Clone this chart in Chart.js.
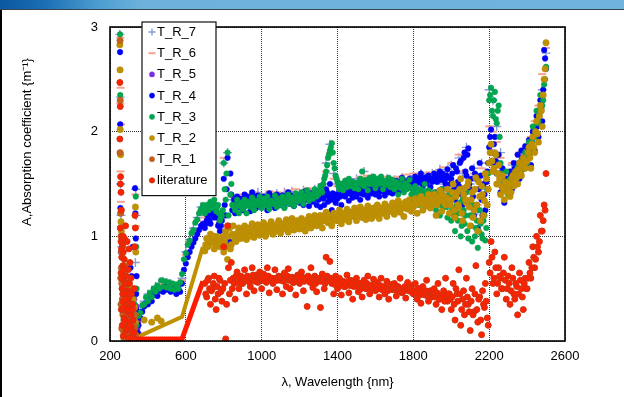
<!DOCTYPE html>
<html>
<head>
<meta charset="utf-8">
<title>Absorption coefficient vs wavelength</title>
<script src="https://cdn.jsdelivr.net/npm/chart.js@4.4.1/dist/chart.umd.min.js"></script>
<style>
  html, body { margin: 0; padding: 0; background: #fff; width: 624px; height: 397px; overflow: hidden; }
  #band { position: absolute; left: 0; top: 0; width: 624px; height: 9px;
          background: linear-gradient(100deg, #0a58a0 0px, #1a6fb4 45px, #4b9bd0 95px, #6cb2dc 140px, #6fb4dd 624px);
          border-bottom: 1px solid #3a4550; z-index: 2; }
  #edge { position: absolute; left: 0; top: 10px; width: 2px; height: 387px; background: #000; z-index: 2; }
  #plot { position: absolute; left: 0; top: 0; }
</style>
</head>
<body>
<div id="band"></div>
<div id="edge"></div>
<canvas id="plot" width="624" height="397"></canvas>
<script>
// ---- sampling grids (nm) ----
function grid(start, stop, step) { const g = []; for (let w = start; w <= stop; w += step) g.push(w); return g; }
const nirWavelengths = grid(700, 2500, 10);       // NIR sweep, first pass
const nirWavelengthsB = grid(705, 2495, 10);      // NIR sweep, second pass
const nirWavelengthsCoarse = grid(700, 2500, 20); // coarse NIR sweep
const visWavelengths = grid(340, 690, 10);        // visible sweep
const visWavelengthsCoarse = grid(340, 680, 20);

// ---- axis ticks ----
const xTicks = [200, 600, 1000, 1400, 1800, 2200, 2600];
const yTicks = [0, 1, 2, 3];

// ---- legend labels ----
const seriesLabels = ['T_R_7', 'T_R_6', 'T_R_5', 'T_R_4', 'T_R_3', 'T_R_2', 'T_R_1', 'literature'];

// ---- UV scatter (wavelength nm, A) ----
const uvT7 = [[252,2.93],[254,2.33],[256,1.5],[258,1.2],[262,0.9],[268,0.7],[275,0.5],[282,0.3],[290,0.15],[298,0.05],[305,0.25],[312,0.1],[320,0.4],[330,0.2],[336,1.45],[338,1.2],[334,0.75]];
const uvT6 = [[254,2.9],[256,2.42],[254,2.27],[258,2.07],[256,1.62],[258,1.33],[262,1.0],[270,0.6],[278,0.35],[288,0.2],[300,0.12],[310,0.3],[324,0.18],[334,1.4],[336,1.1],[332,0.6]];
const uvT5 = [[300,0.1],[310,0.22],[318,0.15],[325,0.3],[330,0.08],[335,0.2],[340,0.33],[345,0.12],[350,0.25],[355,0.06],[338,0.05],[328,0.4],[344,0.28],[348,0.18]];
const uvT4 = [[253,2.76],[254,2.07],[255,1.27],[258,0.85],[262,0.6],[266,0.35],[272,0.2],[278,0.12],[286,0.05],[294,0.3],[302,0.5],[308,0.7],[314,0.62],[320,0.9],[326,0.45],[332,1.46],[334,1.22],[336,0.98],[338,0.3],[340,0.62],[342,0.15],[346,0.08],[338,0.45]];
const uvT3 = [[253,2.93],[254,2.35],[256,1.22],[262,0.5],[270,0.3],[280,0.15],[292,0.08],[306,0.2],[318,0.12],[330,0.35],[336,1.38],[338,0.9],[340,0.5]];
const uvT2 = [[252,2.83],[253,2.59],[254,2.02],[256,1.78],[258,1.14],[260,1.05],[264,0.8],[270,0.6],[276,0.72],[282,0.45],[288,0.5],[294,0.32],[300,0.6],[306,0.4],[312,0.28],[318,0.5],[324,0.2],[330,0.32],[334,1.28],[336,0.85],[326,0.1],[262,0.95],[268,0.35],[274,0.2],[280,0.62],[286,0.15],[298,0.2],[304,0.1],[316,0.08],[322,0.4],[334,0.18],[380,0.2],[420,0.18],[450,0.22],[470,0.19]];
const uvT1 = [[253,2.87],[254,2.3],[253,1.8],[256,1.22],[258,1.0],[260,0.85],[262,0.55],[265,0.4],[268,0.25],[270,0.1],[272,0.03],[276,0.5],[280,0.3],[284,0.15],[288,0.05],[292,0.4],[296,0.2],[300,0.08],[304,0.3],[308,0.12],[312,0.02],[316,0.22],[320,0.06],[325,0.15],[330,0.04],[260,0.7],[266,0.9],[274,0.62],[262,0.12],[278,0.02],[294,0.1],[258,0.35],[257,0.6],[263,0.3],[267,0.7],[271,0.45],[279,0.15],[283,0.38],[287,0.25],[291,0.1],[299,0.3],[303,0.05],[310,0.35],[318,0.1],[323,0.3],[328,0.12],[333,0.25],[336,0.06]];
const uvLit = [[252,2.47],[254,2.24],[252,1.93],[256,1.57],[255,1.5],[258,1.42],[260,1.25],[254,1.08],[262,1.0],[258,0.95],[266,0.92],[270,0.85],[262,0.8],[275,0.78],[268,0.72],[280,0.7],[258,0.65],[285,0.62],[272,0.58],[290,0.55],[264,0.5],[295,0.48],[278,0.45],[300,0.42],[268,0.38],[305,0.36],[284,0.33],[260,0.3],[292,0.28],[310,0.25],[275,0.22],[298,0.18],[265,0.15],[315,0.12],[285,0.1],[320,0.08],[270,0.05],[300,0.03],[325,0.02],[290,0.95],[300,0.88],[305,0.75],[296,0.68],[310,0.6],[282,1.1],[276,0.98],[332,1.2],[334,1.08],[328,0.5],[320,0.35],[263,0.6],[267,0.45],[271,0.32],[277,0.2],[281,0.55],[287,0.4],[293,0.12],[297,0.3],[303,0.55],[307,0.15],[313,0.45],[317,0.3],[322,0.2],[327,0.08],[331,0.9],[261,0.88],[269,1.0],[274,0.68]];

// ---- visible band (on visWavelengths / visWavelengthsCoarse) ----
const visT7 = [0.2,0.3,0.38,0.45,0.47,0.52,0.55,0.57,0.56,0.55,0.53,0.52,0.6,0.85,0.97,1.08,1.18,1.28];
const visT6 = [0.16,0.27,0.36,0.42,0.46,0.5,0.53,0.55,0.54,0.53,0.5,0.5,0.58,0.82,0.95,1.05,1.15,1.25];
const visT4 = [0.08,0.15,0.22,0.28,0.33,0.36,0.35,0.4,0.38,0.44,0.46,0.43,0.48,0.5,0.47,0.52,0.49,0.5,0.47,0.5,0.48,0.45,0.5,0.47,0.55,0.68,0.74,0.8,0.85,0.9,0.94,0.98,1.02,1.06,1.1,1.12];
const visT3 = [0.15,0.24,0.27,0.34,0.35,0.42,0.38,0.46,0.42,0.5,0.47,0.53,0.5,0.58,0.52,0.57,0.51,0.56,0.5,0.55,0.49,0.54,0.5,0.56,0.64,0.78,0.84,0.92,0.96,1.03,1.06,1.13,1.16,1.22,1.26,1.3];
// visible baselines drawn as continuous traces
const visTraceWavelengths = [335, 580, 690];
const visTraceT2 = [0.03, 0.23, 0.9];
const visTraceLit = [0.02, 0.02, 0.57];

// ---- NIR (on nirWavelengthsCoarse) ----
const nirT7 = [
  1.2,1.28,1.3,1.25,1.2,1.7,1.8,1.35,1.3,1.36,
  1.38,1.3,1.4,1.35,1.42,1.32,1.38,1.4,1.34,1.41,
  1.36,1.42,1.38,1.43,1.35,1.41,1.44,1.37,1.42,1.45,
  1.44,1.5,1.7,1.88,1.6,1.5,1.46,1.52,1.48,1.5,
  1.55,1.5,1.62,1.52,1.56,1.5,1.54,1.49,1.55,1.52,
  1.54,1.5,1.56,1.52,1.55,1.58,1.52,1.6,1.55,1.58,
  1.6,1.55,1.64,1.5,1.58,1.68,1.45,1.75,1.6,1.85,
  1.5,1.65,1.25,1.7,1.45,2.4,2.3,2.05,1.8,1.6,
  1.55,1.68,1.62,1.78,1.72,1.85,1.9,2.05,2.2,2.4,
  2.75];
const nirT6 = [
  1.18,1.3,1.28,1.22,1.15,1.75,1.6,1.38,1.32,1.3,
  1.4,1.33,1.38,1.42,1.36,1.4,1.33,1.43,1.37,1.42,
  1.4,1.35,1.44,1.39,1.45,1.38,1.42,1.46,1.4,1.44,
  1.42,1.47,1.62,1.8,1.55,1.48,1.51,1.47,1.53,1.49,
  1.52,1.57,1.5,1.58,1.53,1.55,1.51,1.57,1.5,1.56,
  1.52,1.57,1.54,1.59,1.53,1.6,1.56,1.58,1.54,1.61,
  1.57,1.62,1.52,1.66,1.55,1.7,1.5,1.78,1.62,1.82,
  1.55,1.6,1.3,1.65,1.5,2.05,2.0,1.9,1.75,1.62,
  1.58,1.7,1.65,1.8,1.75,1.88,1.95,2.1,2.25,2.55,
  2.8];

// ---- NIR first pass (on nirWavelengths) ----
const nirT4 = [
  1.08,1.15,1.2,1.12,1.25,1.18,1.28,1.1,1.05,1.15,
  1.55,1.2,1.75,0.95,1.4,1.3,1.22,1.38,1.28,1.35,
  1.25,1.4,1.3,1.36,1.24,1.42,1.32,1.27,1.39,1.3,
  1.28,1.38,1.33,1.25,1.41,1.3,1.36,1.27,1.4,1.32,
  1.3,1.39,1.28,1.35,1.42,1.31,1.37,1.29,1.4,1.34,
  1.32,1.4,1.3,1.43,1.35,1.29,1.41,1.33,1.38,1.3,
  1.35,1.28,1.42,1.3,1.45,1.33,1.5,1.25,1.4,1.32,
  1.36,1.44,1.3,1.42,1.38,1.47,1.34,1.43,1.37,1.46,
  1.38,1.46,1.35,1.44,1.4,1.49,1.37,1.45,1.41,1.48,
  1.4,1.47,1.38,1.5,1.43,1.39,1.48,1.42,1.52,1.41,
  1.45,1.53,1.42,1.5,1.56,1.44,1.52,1.47,1.55,1.46,
  1.5,1.57,1.45,1.54,1.6,1.48,1.56,1.51,1.58,1.47,
  1.52,1.6,1.42,1.56,1.62,1.45,1.58,1.5,1.64,1.4,
  1.55,1.68,1.35,1.62,1.48,1.72,1.3,1.8,1.58,1.84,
  1.45,1.65,1.2,1.55,1.08,1.7,1.35,1.5,1.25,1.62,
  1.85,2.02,1.7,1.95,1.6,1.78,1.42,1.65,1.32,1.55,
  1.5,1.62,1.45,1.7,1.58,1.78,1.55,1.82,1.68,1.86,
  1.75,1.92,1.68,2.0,1.82,2.15,1.95,2.3,2.1,2.78,
  2.6];
const nirT3 = [
  1.22,1.3,1.25,1.33,1.28,1.35,1.24,1.3,1.15,1.2,
  1.7,1.35,1.8,1.1,1.5,1.3,1.25,1.35,1.22,1.32,
  1.26,1.35,1.22,1.33,1.28,1.37,1.25,1.34,1.3,1.38,
  1.27,1.36,1.3,1.38,1.26,1.34,1.31,1.39,1.28,1.36,
  1.3,1.38,1.27,1.36,1.4,1.31,1.37,1.29,1.41,1.33,
  1.35,1.42,1.31,1.39,1.44,1.34,1.4,1.36,1.45,1.38,
  1.4,1.48,1.42,1.55,1.62,1.75,1.82,1.89,1.7,1.58,
  1.52,1.45,1.5,1.44,1.53,1.47,1.55,1.48,1.52,1.46,
  1.5,1.45,1.55,1.62,1.48,1.54,1.44,1.56,1.5,1.57,
  1.46,1.55,1.5,1.57,1.45,1.53,1.49,1.56,1.47,1.54,
  1.45,1.52,1.4,1.5,1.55,1.42,1.51,1.46,1.54,1.4,
  1.35,1.48,1.42,1.3,1.45,1.38,1.5,1.32,1.44,1.36,
  1.3,1.42,1.25,1.38,1.2,1.45,1.28,1.35,1.18,1.4,
  1.15,1.38,1.05,1.3,1.22,1.0,1.35,1.12,1.42,0.98,
  1.2,0.95,1.3,1.08,0.89,1.25,1.02,1.15,0.96,1.45,
  2.3,2.42,2.15,2.38,2.08,2.25,1.7,1.55,1.45,1.62,
  1.4,1.55,1.48,1.6,1.5,1.66,1.58,1.72,1.64,1.8,
  1.7,1.9,1.8,2.05,1.95,2.2,2.1,2.35,2.25,2.45,
  2.62];
const nirT2 = [
  0.86,0.98,0.92,1.02,0.95,0.88,1.0,0.93,0.9,0.97,
  0.85,1.05,0.78,1.08,0.92,1.1,0.96,1.02,1.08,0.98,
  1.0,1.1,0.97,1.08,1.03,1.12,0.99,1.06,1.11,1.01,
  1.04,1.13,1.0,1.09,1.05,1.14,1.02,1.1,1.07,1.15,
  1.03,1.12,1.08,1.16,1.04,1.11,1.17,1.06,1.13,1.09,
  1.07,1.17,1.1,1.05,1.15,1.19,1.08,1.14,1.2,1.1,
  1.12,1.2,1.08,1.17,1.23,1.13,1.19,1.1,1.22,1.15,
  1.18,1.25,1.12,1.21,1.16,1.26,1.14,1.23,1.19,1.27,
  1.15,1.22,1.28,1.18,1.25,1.16,1.29,1.21,1.17,1.27,
  1.2,1.3,1.17,1.26,1.22,1.31,1.19,1.28,1.24,1.32,
  1.21,1.29,1.34,1.23,1.3,1.19,1.33,1.26,1.35,1.24,
  1.28,1.36,1.22,1.32,1.38,1.25,1.34,1.29,1.4,1.27,
  1.31,1.4,1.2,1.36,1.44,1.24,1.38,1.3,1.45,1.22,
  1.35,1.5,1.18,1.42,1.28,1.55,1.15,1.46,1.32,1.52,
  1.1,1.42,1.25,1.56,1.05,1.38,1.48,1.2,1.6,1.3,
  1.7,1.88,1.62,1.8,1.5,1.68,1.4,1.58,1.35,1.5,
  1.45,1.38,1.55,1.48,1.62,1.5,1.7,1.58,1.75,1.65,
  1.72,1.85,1.65,1.95,1.8,2.1,1.9,2.25,2.05,2.5,
  2.85];
const nirLit = [
  0.55,0.42,0.6,0.35,0.5,0.62,0.3,0.45,0.58,0.38,
  0.9,0.02,1.1,0.45,0.75,0.6,0.4,0.66,0.5,0.62,
  0.55,0.68,0.45,0.6,0.52,0.7,0.48,0.63,0.56,0.66,
  0.5,0.64,0.57,0.7,0.46,0.6,0.55,0.68,0.49,0.62,
  0.58,0.45,0.65,0.52,0.69,0.5,0.61,0.56,0.44,0.63,
  0.55,0.66,0.48,0.6,0.33,0.58,0.7,0.51,0.62,0.47,
  0.57,0.32,0.64,0.5,0.8,0.6,0.76,0.55,0.45,0.62,
  0.5,0.6,0.44,0.57,0.52,0.63,0.46,0.58,0.4,0.55,
  0.6,0.47,0.55,0.42,0.58,0.5,0.62,0.45,0.53,0.59,
  0.48,0.56,0.42,0.6,0.5,0.45,0.57,0.4,0.54,0.49,
  0.55,0.43,0.52,0.6,0.46,0.5,0.41,0.56,0.48,0.53,
  0.45,0.55,0.4,0.5,0.36,0.52,0.44,0.58,0.38,0.48,
  0.42,0.5,0.35,0.55,0.4,0.3,0.48,0.6,0.38,0.45,
  0.3,0.55,0.2,0.45,0.68,0.15,0.4,0.25,0.6,0.35,
  0.1,0.5,0.28,0.72,0.18,0.42,0.06,0.35,0.55,0.22,
  0.75,0.95,0.55,0.85,0.45,0.7,0.6,0.5,0.8,0.4,
  0.62,0.35,0.7,0.45,0.55,0.25,0.65,0.5,0.3,0.6,
  0.5,0.75,0.6,0.9,0.7,1.0,0.85,1.2,1.05,1.3,
  1.6];

// ---- NIR second pass (on nirWavelengthsB) ----
const nirT4b = [
  1.12,1.2,1.15,1.22,1.2,1.24,1.18,1.12,1.1,1.2,
  1.3,1.45,1.1,1.6,1.25,1.35,1.3,1.32,1.36,1.3,
  1.33,1.35,1.38,1.32,1.36,1.34,1.38,1.35,1.33,1.37,
  1.35,1.32,1.37,1.34,1.36,1.38,1.33,1.36,1.35,1.38,
  1.36,1.34,1.38,1.37,1.35,1.39,1.36,1.38,1.35,1.39,
  1.37,1.36,1.39,1.38,1.4,1.37,1.39,1.36,1.4,1.38,
  1.38,1.4,1.36,1.39,1.42,1.38,1.35,1.41,1.37,1.4,
  1.4,1.38,1.42,1.4,1.43,1.41,1.44,1.4,1.42,1.43,
  1.42,1.44,1.41,1.45,1.43,1.46,1.42,1.44,1.45,1.43,
  1.44,1.46,1.43,1.47,1.45,1.48,1.44,1.47,1.46,1.49,
  1.48,1.5,1.47,1.52,1.49,1.51,1.5,1.53,1.49,1.52,
  1.52,1.54,1.51,1.56,1.53,1.55,1.52,1.57,1.54,1.55,
  1.55,1.57,1.52,1.58,1.54,1.6,1.53,1.58,1.56,1.5,
  1.6,1.45,1.65,1.52,1.7,1.4,1.75,1.62,1.78,1.5,
  1.55,1.38,1.6,1.3,1.45,1.58,1.2,1.4,1.52,1.7,
  1.95,1.8,1.88,1.72,1.7,1.6,1.55,1.5,1.45,1.48,
  1.55,1.58,1.6,1.65,1.62,1.7,1.68,1.75,1.72,1.8,
  1.82,1.85,1.9,1.95,2.0,2.05,2.1,2.2,2.4,2.7];
const nirT3b = [
  1.26,1.28,1.3,1.27,1.32,1.3,1.28,1.22,1.18,1.25,
  1.45,1.6,1.2,1.4,1.3,1.28,1.3,1.29,1.3,1.28,
  1.3,1.29,1.31,1.3,1.32,1.31,1.3,1.32,1.33,1.31,
  1.32,1.31,1.33,1.32,1.31,1.34,1.33,1.32,1.35,1.33,
  1.34,1.33,1.32,1.35,1.34,1.36,1.35,1.34,1.36,1.37,
  1.38,1.37,1.36,1.39,1.38,1.4,1.39,1.41,1.4,1.42,
  1.44,1.46,1.5,1.58,1.68,1.78,1.85,1.8,1.65,1.55,
  1.48,1.5,1.47,1.5,1.49,1.51,1.5,1.52,1.5,1.51,
  1.5,1.52,1.5,1.53,1.51,1.52,1.5,1.53,1.52,1.51,
  1.5,1.52,1.51,1.53,1.5,1.52,1.5,1.51,1.49,1.5,
  1.48,1.47,1.49,1.46,1.48,1.47,1.45,1.48,1.46,1.45,
  1.42,1.4,1.44,1.38,1.42,1.4,1.43,1.39,1.41,1.38,
  1.36,1.35,1.32,1.38,1.3,1.34,1.33,1.28,1.36,1.3,
  1.25,1.2,1.28,1.15,1.32,1.1,1.25,1.2,1.05,1.3,
  1.1,1.2,1.0,1.15,1.05,1.12,0.98,1.2,1.08,1.6,
  2.35,2.2,2.3,2.12,2.2,1.95,1.6,1.5,1.52,1.48,
  1.48,1.52,1.55,1.54,1.58,1.62,1.65,1.68,1.7,1.75,
  1.78,1.85,1.9,1.95,2.0,2.08,2.15,2.22,2.3,2.5];
const nirT2b = [
  0.92,0.9,0.97,0.95,1.0,0.93,0.96,0.98,0.94,1.0,
  0.95,0.9,1.0,0.88,1.02,1.0,0.95,1.04,1.0,1.05,
  1.05,1.02,1.06,1.0,1.08,1.05,1.03,1.09,1.04,1.07,
  1.08,1.06,1.1,1.04,1.11,1.07,1.09,1.05,1.12,1.08,
  1.1,1.07,1.13,1.09,1.1,1.14,1.11,1.09,1.15,1.12,
  1.13,1.1,1.15,1.12,1.1,1.16,1.13,1.17,1.12,1.16,
  1.16,1.14,1.18,1.15,1.19,1.16,1.14,1.2,1.17,1.19,
  1.2,1.17,1.22,1.19,1.21,1.18,1.23,1.2,1.22,1.21,
  1.2,1.24,1.22,1.21,1.25,1.23,1.2,1.26,1.22,1.24,
  1.25,1.23,1.27,1.24,1.26,1.28,1.25,1.27,1.24,1.29,
  1.26,1.3,1.27,1.28,1.31,1.27,1.29,1.32,1.28,1.3,
  1.3,1.33,1.31,1.34,1.32,1.3,1.35,1.33,1.31,1.36,
  1.33,1.36,1.3,1.38,1.34,1.4,1.32,1.37,1.35,1.3,
  1.42,1.25,1.38,1.3,1.45,1.22,1.4,1.35,1.48,1.28,
  1.35,1.18,1.45,1.3,1.52,1.15,1.4,1.34,1.55,1.45,
  1.8,1.72,1.65,1.78,1.6,1.55,1.48,1.45,1.52,1.42,
  1.5,1.42,1.58,1.52,1.56,1.64,1.6,1.68,1.7,1.72,
  1.8,1.75,1.88,1.85,2.0,1.98,2.15,2.2,2.35,2.6];
const nirLitB = [
  0.45,0.58,0.5,0.48,0.55,0.4,0.52,0.6,0.47,0.5,
  0.55,0.35,0.7,0.58,0.5,0.55,0.62,0.56,0.6,0.55,
  0.6,0.58,0.62,0.56,0.6,0.63,0.57,0.61,0.59,0.6,
  0.58,0.6,0.56,0.62,0.58,0.6,0.57,0.6,0.58,0.61,
  0.6,0.57,0.59,0.62,0.58,0.6,0.56,0.59,0.61,0.57,
  0.58,0.61,0.57,0.59,0.62,0.56,0.6,0.58,0.55,0.59,
  0.6,0.57,0.59,0.55,0.62,0.58,0.6,0.57,0.54,0.58,
  0.55,0.53,0.56,0.52,0.54,0.57,0.53,0.55,0.52,0.56,
  0.52,0.55,0.5,0.54,0.52,0.55,0.51,0.53,0.5,0.54,
  0.52,0.5,0.53,0.49,0.52,0.5,0.48,0.51,0.5,0.52,
  0.49,0.51,0.48,0.5,0.47,0.52,0.49,0.48,0.5,0.46,
  0.48,0.46,0.5,0.44,0.47,0.45,0.48,0.43,0.46,0.44,
  0.45,0.42,0.46,0.4,0.44,0.42,0.38,0.43,0.45,0.4,
  0.42,0.35,0.5,0.38,0.45,0.3,0.48,0.35,0.42,0.28,
  0.38,0.25,0.45,0.3,0.4,0.2,0.48,0.32,0.38,0.15,
  0.65,0.8,0.6,0.7,0.55,0.62,0.5,0.65,0.58,0.5,
  0.55,0.48,0.6,0.4,0.52,0.45,0.58,0.42,0.55,0.5,
  0.6,0.65,0.7,0.8,0.78,0.9,0.95,1.05,1.15,1.25];

// ---- assemble point lists ----
const fromPairs = list => list.map(([x, y]) => ({ x, y }));
const onGrid = (xs, ys) => ys.map((y, i) => ({ x: xs[i], y }));

const seriesPoints = {
  'T_R_7': [...fromPairs(uvT7), ...onGrid(visWavelengthsCoarse, visT7), ...onGrid(nirWavelengthsCoarse, nirT7)],
  'T_R_6': [...fromPairs(uvT6), ...onGrid(visWavelengthsCoarse, visT6), ...onGrid(nirWavelengthsCoarse, nirT6)],
  'T_R_5': fromPairs(uvT5),
  'T_R_4': [...fromPairs(uvT4), ...onGrid(visWavelengths, visT4), ...onGrid(nirWavelengths, nirT4), ...onGrid(nirWavelengthsB, nirT4b)],
  'T_R_3': [...fromPairs(uvT3), ...onGrid(visWavelengths, visT3), ...onGrid(nirWavelengths, nirT3), ...onGrid(nirWavelengthsB, nirT3b)],
  'T_R_2': [...fromPairs(uvT2), ...onGrid(nirWavelengths, nirT2), ...onGrid(nirWavelengthsB, nirT2b)],
  'T_R_1': fromPairs(uvT1),
  'literature': [...fromPairs(uvLit), ...onGrid(nirWavelengths, nirLit), ...onGrid(nirWavelengthsB, nirLitB)]
};

// marker appearance per series
const markerStyle = {
  'T_R_7':      { pointStyle: 'cross',  radius: 4.5, fill: '#8b9bd6', stroke: '#8b9bd6', width: 1.4 },
  'T_R_6':      { pointStyle: 'line',   radius: 4,   fill: '#f4a48c', stroke: '#f4a48c', width: 2 },
  'T_R_5':      { pointStyle: 'circle', radius: 2.8, fill: '#7a2ee6', stroke: '#7a2ee6', width: 0.5 },
  'T_R_4':      { pointStyle: 'circle', radius: 2.8, fill: '#0000ff', stroke: '#0000ee', width: 0.5 },
  'T_R_3':      { pointStyle: 'circle', radius: 2.8, fill: '#00a650', stroke: '#009a48', width: 0.5 },
  'T_R_2':      { pointStyle: 'circle', radius: 3.2, fill: '#bf9000', stroke: '#b38a10', width: 0.5 },
  'T_R_1':      { pointStyle: 'circle', radius: 3.2, fill: '#c2621c', stroke: '#b55a1a', width: 0.5 },
  'literature': { pointStyle: 'circle', radius: 3,   fill: '#ff2200', stroke: '#cc3311', width: 1 }
};

const datasets = seriesLabels.map((label, i) => {
  const m = markerStyle[label];
  return {
    label,
    data: seriesPoints[label],
    showLine: false,
    pointStyle: m.pointStyle,
    pointRadius: m.radius,
    pointBackgroundColor: m.fill,
    pointBorderColor: m.stroke,
    pointBorderWidth: m.width,
    pointHoverRadius: m.radius,
    order: seriesLabels.length - 1 - i
  };
});
// continuous visible traces
datasets.push({
  label: 'T_R_2 trace', data: onGrid(visTraceWavelengths, visTraceT2), showLine: true,
  borderColor: '#bf9000', borderWidth: 4, pointRadius: 0, tension: 0, order: 2
});
datasets.push({
  label: 'literature trace', data: onGrid(visTraceWavelengths, visTraceLit), showLine: true,
  borderColor: '#ff1a00', borderWidth: 5, pointRadius: 0, tension: 0, order: 0
});

const FONT = "'Liberation Sans', Arial, sans-serif";

const decorations = {
  id: 'decorations',
  afterDatasetsDraw(chart) {
    const { ctx, chartArea: a } = chart;
    ctx.save();
    ctx.strokeStyle = '#000';
    ctx.lineWidth = 1.6;
    ctx.strokeRect(a.left, a.top, a.right - a.left, a.bottom - a.top);
    ctx.restore();
  },
  afterDraw(chart) {
    const { ctx, chartArea: a } = chart;
    ctx.save();
    // axis titles
    ctx.fillStyle = '#000';
    ctx.font = '13px ' + FONT;
    ctx.textAlign = 'center';
    ctx.textBaseline = 'alphabetic';
    ctx.fillText('\u03bb, Wavelength {nm}', (a.left + a.right) / 2, 386);
    ctx.save();
    ctx.translate(31, 142);
    ctx.rotate(-Math.PI / 2);
    ctx.fillText('A,Absorption coefficient {m\u207b\u00b9}', 0, 0);
    ctx.restore();

    // legend box
    const boxL = a.left + 32, boxT = a.top - 5, boxW = 74, rowH = 21.2;
    const boxH = rowH * seriesLabels.length + 4;
    ctx.fillStyle = '#fff';
    ctx.fillRect(boxL, boxT, boxW, boxH);
    ctx.strokeStyle = '#111';
    ctx.lineWidth = 1.2;
    ctx.strokeRect(boxL, boxT, boxW, boxH);
    ctx.textAlign = 'left';
    ctx.textBaseline = 'middle';
    seriesLabels.forEach((label, i) => {
      const m = markerStyle[label];
      const y = boxT + 10 + i * rowH;
      ctx.fillStyle = m.fill;
      ctx.strokeStyle = m.stroke;
      ctx.lineWidth = m.width;
      Chart.helpers.drawPoint(ctx, { pointStyle: m.pointStyle, radius: m.pointStyle === 'circle' ? 2.6 : 3.5, borderWidth: m.width, rotation: 0 }, boxL + 10, y);
      ctx.fillStyle = '#000';
      ctx.fillText(label, boxL + 15, y + 0.5);
    });
    ctx.restore();
  }
};

new Chart(document.getElementById('plot').getContext('2d'), {
  type: 'scatter',
  data: { datasets },
  options: {
    responsive: false,
    animation: false,
    devicePixelRatio: 1,
    layout: { padding: { left: 0, right: 59, top: 27, bottom: 0 } },
    plugins: { legend: { display: false }, tooltip: { enabled: false } },
    scales: {
      x: {
        type: 'linear', min: xTicks[0], max: xTicks[xTicks.length - 1],
        afterBuildTicks: s => { s.ticks = xTicks.map(v => ({ value: v })); },
        ticks: { color: '#000', font: { family: FONT, size: 13 }, padding: 8, maxRotation: 0, autoSkip: false,
                 callback: v => String(v) },
        grid: { color: '#333', lineWidth: 1, drawTicks: false },
        border: { display: false, dash: [1, 1] },
        afterFit: s => { s.height = 56; }
      },
      y: {
        type: 'linear', min: yTicks[0], max: yTicks[yTicks.length - 1],
        afterBuildTicks: s => { s.ticks = yTicks.map(v => ({ value: v })); },
        ticks: { color: '#000', font: { family: FONT, size: 13 }, padding: 12, autoSkip: false,
                 callback: v => String(v) },
        grid: { color: '#333', lineWidth: 1, drawTicks: false },
        border: { display: false, dash: [1, 1] },
        afterFit: s => { s.width = 110; }
      }
    }
  },
  plugins: [decorations]
});
</script>
</body>
</html>
